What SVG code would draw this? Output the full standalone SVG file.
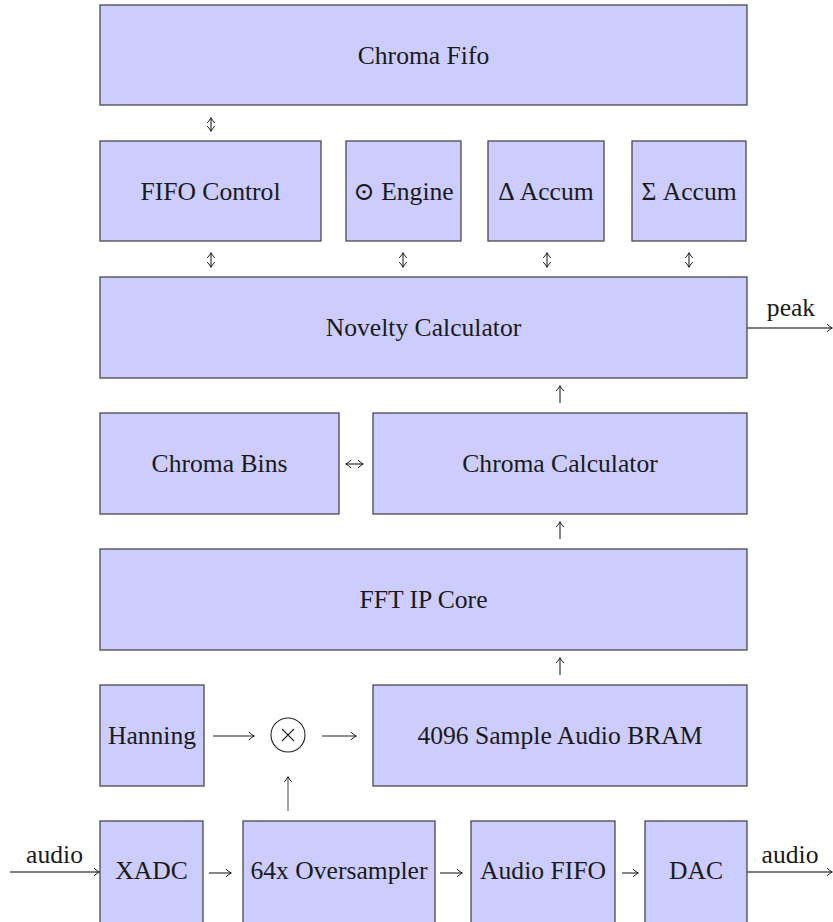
<svg xmlns="http://www.w3.org/2000/svg" width="833" height="922" viewBox="0 0 833 922">
<style>
.box{fill:#ccccff;stroke:#4a4a4a;stroke-width:1.3}
.lbl{font-family:"Liberation Serif","Times New Roman","DejaVu Serif",serif;font-size:25.6px;fill:#1a1a1a;text-anchor:middle}
.ar{fill:none;stroke:#222;stroke-width:1.1;marker-end:url(#ah)}
.dar{fill:none;stroke:#222;stroke-width:1.1;marker-end:url(#ah);marker-start:url(#ahs)}
.io{fill:none;stroke:#555;stroke-width:1.3;marker-end:url(#ah)}
</style>
<defs>
<marker id="ah" markerUnits="userSpaceOnUse" viewBox="-7 -5 9 10" refX="0" refY="0" markerWidth="9" markerHeight="10" orient="auto">
<path d="M-5,-3.8 Q-1.8,-0.9 0.4,0 Q-1.8,0.9 -5,3.8" fill="none" stroke="#222" stroke-width="1"/>
</marker>
<marker id="ahs" markerUnits="userSpaceOnUse" viewBox="-7 -5 9 10" refX="0" refY="0" markerWidth="9" markerHeight="10" orient="auto-start-reverse">
<path d="M-5,-3.8 Q-1.8,-0.9 0.4,0 Q-1.8,0.9 -5,3.8" fill="none" stroke="#222" stroke-width="1"/>
</marker>
</defs>
<rect width="833" height="922" fill="#ffffff"/>

<g id="chroma-fifo"><rect class="box" x="100" y="5" width="647" height="100"/><text class="lbl" x="423.5" y="63.5">Chroma Fifo</text></g>
<g id="fifo-control"><rect class="box" x="100" y="141" width="221" height="100"/><text class="lbl" x="210.5" y="199.5">FIFO Control</text></g>
<g id="dot-engine"><rect class="box" x="346" y="141" width="115" height="100"/><text class="lbl" x="403.5" y="199.5">⊙ Engine</text></g>
<g id="delta-accum"><rect class="box" x="488" y="141" width="116" height="100"/><text class="lbl" x="546" y="199.5">Δ Accum</text></g>
<g id="sigma-accum"><rect class="box" x="632" y="141" width="114" height="100"/><text class="lbl" x="689" y="199.5">Σ Accum</text></g>
<g id="novelty-calculator"><rect class="box" x="100" y="277" width="647" height="101"/><text class="lbl" x="423.5" y="336">Novelty Calculator</text></g>
<g id="chroma-bins"><rect class="box" x="100" y="413" width="239" height="101"/><text class="lbl" x="219.5" y="472">Chroma Bins</text></g>
<g id="chroma-calculator"><rect class="box" x="373" y="413" width="374" height="101"/><text class="lbl" x="560" y="472">Chroma Calculator</text></g>
<g id="fft-ip-core"><rect class="box" x="100" y="549" width="647" height="101"/><text class="lbl" x="423.5" y="608">FFT IP Core</text></g>
<g id="hanning"><rect class="box" x="100" y="685" width="104" height="101"/><text class="lbl" x="152" y="744">Hanning</text></g>
<g id="multiplier"><circle cx="288" cy="735" r="17" fill="none" stroke="#222" stroke-width="1.1"/><path d="M282,729 L294,741 M294,729 L282,741" stroke="#222" stroke-width="1.1" fill="none"/></g>
<g id="audio-bram"><rect class="box" x="373" y="685" width="374" height="101"/><text class="lbl" x="560" y="744">4096 Sample Audio BRAM</text></g>
<g id="xadc"><rect class="box" x="100" y="821" width="103" height="105"/><text class="lbl" x="151.5" y="879">XADC</text></g>
<g id="oversampler"><rect class="box" x="243" y="821" width="192" height="105"/><text class="lbl" x="339" y="879">64x Oversampler</text></g>
<g id="audio-fifo"><rect class="box" x="471" y="821" width="144" height="105"/><text class="lbl" x="543" y="879">Audio FIFO</text></g>
<g id="dac"><rect class="box" x="645" y="821" width="102" height="105"/><text class="lbl" x="696" y="879">DAC</text></g>

<g id="connectors">
<path class="dar" d="M211,118 V131"/>
<path class="dar" d="M211,253 V267"/>
<path class="dar" d="M403,253 V267"/>
<path class="dar" d="M547,253 V267"/>
<path class="dar" d="M689,253 V267"/>
<path class="ar" d="M560,403 V386"/>
<path class="ar" d="M560,539 V522"/>
<path class="ar" d="M560,675 V658"/>
<path class="dar" d="M346,464 H363"/>
<path class="ar" d="M213,736 H254"/>
<path class="ar" d="M322,736 H356"/>
<path class="ar" d="M288,811 V777" style="stroke:#555"/>
<path class="ar" d="M209,873 H231"/>
<path class="ar" d="M440,873 H462"/>
<path class="ar" d="M622,873 H638"/>
<path class="io" d="M10,872 H99"/>
<text class="lbl" x="54.5" y="863">audio</text>
<path class="io" d="M747,872 H832"/>
<text class="lbl" x="790" y="863">audio</text>
<path class="io" d="M747,328 H832"/>
<text class="lbl" x="791" y="316">peak</text>
</g>
</svg>
